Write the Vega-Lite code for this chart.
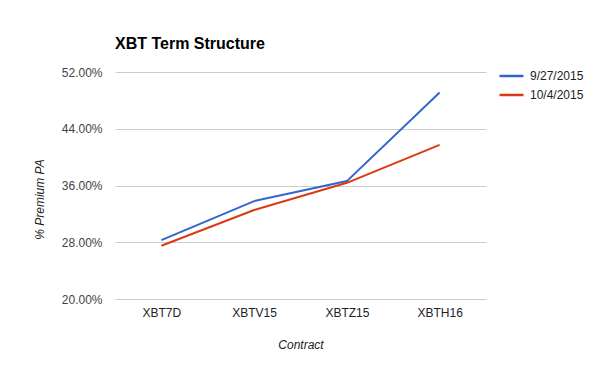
{
  "$schema": "https://vega.github.io/schema/vega-lite/v6.json",
  "width": 371,
  "height": 227,
  "autosize": {"type": "none"},
  "padding": {"left": 115, "top": 72, "right": 114, "bottom": 72},
  "background": "white",
  "config": {
    "font": "Liberation Sans",
    "view": {"stroke": null}
  },
  "title": {
    "text": "XBT Term Structure",
    "anchor": "start",
    "frame": "group",
    "fontSize": 16,
    "fontWeight": "bold",
    "font": "Liberation Sans",
    "color": "#000000",
    "offset": 14
  },
  "data": {
    "values": [
      {"contract": "XBT7D", "date": "9/27/2015", "premium": 0.2831},
      {"contract": "XBTV15", "date": "9/27/2015", "premium": 0.3380},
      {"contract": "XBTZ15", "date": "9/27/2015", "premium": 0.3662},
      {"contract": "XBTH16", "date": "9/27/2015", "premium": 0.4911},
      {"contract": "XBT7D", "date": "10/4/2015", "premium": 0.2751},
      {"contract": "XBTV15", "date": "10/4/2015", "premium": 0.3254},
      {"contract": "XBTZ15", "date": "10/4/2015", "premium": 0.3638},
      {"contract": "XBTH16", "date": "10/4/2015", "premium": 0.4173}
    ]
  },
  "mark": {"type": "line", "strokeWidth": 2},
  "encoding": {
    "x": {
      "field": "contract",
      "type": "nominal",
      "sort": ["XBT7D", "XBTV15", "XBTZ15", "XBTH16"],
      "scale": {"type": "point", "padding": 0.5},
      "axis": {
        "title": "Contract",
        "titleFont": "Liberation Sans",
        "titleFontStyle": "italic",
        "titleFontWeight": "normal",
        "titleFontSize": 12,
        "titleColor": "#222222",
        "titlePadding": 21,
        "labelAngle": 0,
        "labelFontSize": 12,
        "labelColor": "#222222",
        "labelPadding": 8,
        "ticks": false,
        "domain": false,
        "grid": false
      }
    },
    "y": {
      "field": "premium",
      "type": "quantitative",
      "scale": {"domain": [0.2, 0.52], "nice": false, "zero": false},
      "axis": {
        "title": "% Premium PA",
        "titleFont": "Liberation Sans",
        "titleFontStyle": "italic",
        "titleFontWeight": "normal",
        "titleFontSize": 12,
        "titleColor": "#222222",
        "titlePadding": 15,
        "titleY": 127,
        "values": [0.2, 0.28, 0.36, 0.44, 0.52],
        "format": ".2%",
        "labelFontSize": 12,
        "labelColor": "#444444",
        "labelPadding": 13,
        "ticks": false,
        "domain": false,
        "grid": true,
        "gridColor": "#cccccc"
      }
    },
    "color": {
      "field": "date",
      "type": "nominal",
      "sort": ["9/27/2015", "10/4/2015"],
      "scale": {"domain": ["9/27/2015", "10/4/2015"], "range": ["#3366cc", "#dc3912"]},
      "legend": {
        "title": null,
        "orient": "none",
        "legendX": 383,
        "legendY": -4,
        "symbolType": "stroke",
        "symbolStrokeWidth": 2.5,
        "symbolSize": 576,
        "clipHeight": 16,
        "labelOffset": 5,
        "labelFontSize": 12,
        "labelColor": "#222222",
        "rowPadding": 3
      }
    }
  }
}
